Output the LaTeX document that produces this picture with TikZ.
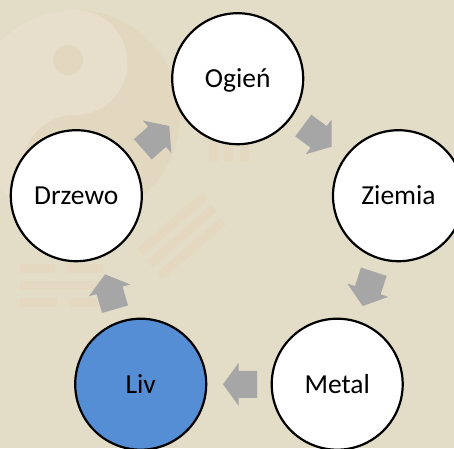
\documentclass[tikz,border=0pt]{standalone}
\usepackage{fontspec}
\setmainfont{Carlito}
\usetikzlibrary{calc}
\definecolor{bgcol}{HTML}{E3DCC7}
\definecolor{yylight}{HTML}{E7DFCC}
\definecolor{yydark}{HTML}{E2D8C0}
\definecolor{barcol}{HTML}{E4D8C0}
\definecolor{arrgray}{HTML}{A6A6A6}
\definecolor{livblue}{HTML}{558ED5}
\newcommand{\blockarr}[2]{%
  \coordinate (bah) at ($(#1)!0.54!(#2)$);
  \fill[arrgray] ($(#1)!13.5pt!90:(#2)$) -- ($(bah)!13.5pt!90:(#2)$) -- ($(bah)!21.5pt!90:(#2)$) -- (#2)
    -- ($(bah)!21.5pt!-90:(#2)$) -- ($(bah)!13.5pt!-90:(#2)$) -- ($(#1)!13.5pt!-90:(#2)$) -- cycle;}
\begin{document}
\begin{tikzpicture}[x=1pt,y=-1pt,
  elem/.style={circle, draw=black, line width=2.2pt, fill=white, minimum size=131pt,
    inner sep=0pt, font=\fontsize{27.5}{32}\selectfont, text height=17.7pt, text depth=0pt},
  bar/.style={draw=barcol, line width=9pt}]
\useasboundingbox (0,0) rectangle (454,448);
\clip (0,0) rectangle (454,448);
\fill[bgcol] (0,0) rectangle (454,448);
% faint yin-yang watermark
\fill[yydark] (75,115) circle[radius=105pt];
\begin{scope}
  \clip (75,115) circle[radius=105pt];
  \fill[yylight] (-40,0) rectangle (75,230);
\end{scope}
\fill[yylight] (75,62.5) circle[radius=52.5pt];
\fill[yydark] (75,167.5) circle[radius=52.5pt];
\fill[yydark] (68,60) circle[radius=15pt];
\fill[yylight] (75,167.5) circle[radius=15pt];
% trigram bars
\draw[bar] (20,268) -- (55,268);
\draw[bar] (67,268) -- (103,268);
\draw[bar] (20,285) -- (103,285);
\draw[bar] (20,302) -- (57,302);
\draw[bar] (69,302) -- (103,302);
\draw[bar] (140,252) -- (205,196);
\draw[bar] (150,264) -- (214,208);
\draw[bar] (160,276) -- (223,221);
\draw[bar] (213,120) -- (213,162);
\draw[bar] (228,120) -- (228,162);
\draw[bar] (244,120) -- (244,162);
% elements
\node[elem] (og) at (237.7,78.7) {Ogień};
\node[elem] (zi) at (398.5,195.7) {Ziemia};
\node[elem] (me) at (337.2,384.2) {Metal};
\node[elem, fill=livblue] (li) at (140.7,384.2) {Liv};
\node[elem] (dr) at (76.3,195.7) {Drzewo};
% arrows
\coordinate (a1s) at (303.3,125.5); \coordinate (a1e) at (331.7,146.7);
\coordinate (a2s) at (373.8,271.7); \coordinate (a2e) at (362.7,306);
\coordinate (a3s) at (257,384.3);   \coordinate (a3e) at (223,384.3);
\coordinate (a4s) at (115,309.2);   \coordinate (a4e) at (105,274.3);
\coordinate (a5s) at (142.8,149.3); \coordinate (a5e) at (169.3,126);
\blockarr{a1s}{a1e}
\blockarr{a2s}{a2e}
\blockarr{a3s}{a3e}
\blockarr{a4s}{a4e}
\blockarr{a5s}{a5e}
\end{tikzpicture}
\end{document}
